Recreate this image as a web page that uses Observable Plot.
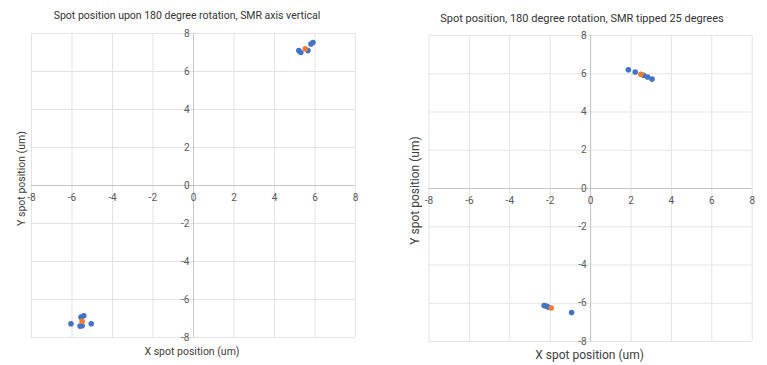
<!DOCTYPE html>
<html><head><meta charset="utf-8">
<script src="https://cdn.jsdelivr.net/npm/d3@7"></script>
<script src="https://cdn.jsdelivr.net/npm/@observablehq/plot@0.6"></script>
<style>
body{margin:0;background:#fff;font-family:Roboto,"Liberation Sans",sans-serif;}
#wrap{position:relative;width:767px;height:365px;overflow:hidden;background:#fff}
.panel{position:absolute;top:0;height:365px}
.title{position:absolute;white-space:nowrap;transform:translate(-50%,-50%);color:#333333}
.panel svg{position:absolute;top:27px;left:0;overflow:visible}
</style>
</head><body>
<div id="wrap">
  <div class="panel" id="p1" style="left:0;width:380px"><div class="title" style="left:187px;top:15px;font-size:10.5px">Spot position upon 180 degree rotation, SMR axis vertical</div></div>
  <div class="panel" id="p2" style="left:380px;width:387px"><div class="title" style="left:202px;top:18px;font-size:11px">Spot position, 180 degree rotation, SMR tipped 25 degrees</div></div>
</div>
<script>
const ticks = [-8, -6, -4, -2, 0, 2, 4, 6, 8];
const xTitle = "X spot position (um)";
const yTitle = "Y spot position (um)";

// Left chart: SMR axis vertical
const leftBlueX = [5.2, 5.3, 5.65, 5.8, 5.9, -6.05, -5.55, -5.42, -5.5, -5.6, -5.05];
const leftBlueY = [7.1, 7.0, 7.1, 7.45, 7.53, -7.28, -6.93, -6.86, -7.38, -7.4, -7.28];
const leftOrangeX = [5.52, -5.5];
const leftOrangeY = [7.2, -7.15];

// Right chart: SMR tipped 25 degrees
const rightBlueX = [1.87, 2.21, 2.62, 2.82, 3.04, -2.3, -2.2, -2.1, -0.94];
const rightBlueY = [6.21, 6.09, 5.92, 5.83, 5.72, -6.12, -6.15, -6.2, -6.49];
const rightOrangeX = [2.49, -1.95];
const rightOrangeY = [5.97, -6.25];

const BLUE = "#4472C4", ORANGE = "#ED7D31";

function pts(xs, ys) { return xs.map((x, i) => ({x, y: ys[i]})); }

function chart(o) {
  const blue = pts(o.bx, o.by), orange = pts(o.ox, o.oy);
  return Plot.plot({
    width: o.width, height: 338,
    marginLeft: o.ml, marginRight: o.mr, marginTop: o.mt, marginBottom: o.mb,
    x: {domain: [-8, 8], axis: null},
    y: {domain: [-8, 8], axis: null},
    style: {fontFamily: "Roboto, 'Liberation Sans', sans-serif", background: "transparent", overflow: "visible"},
    marks: [
      Plot.gridX(ticks, {stroke: "#e3e3e3", strokeOpacity: 1}),
      Plot.gridY(ticks, {stroke: "#e3e3e3", strokeOpacity: 1}),
      Plot.ruleX([0], {stroke: "#c4c4c4"}),
      Plot.ruleY([0], {stroke: "#c4c4c4"}),
      Plot.text(ticks, {x: d => d, y: 0, dy: 12, text: d => String(d), fill: "#595959", fontSize: o.tfs}),
      Plot.text(ticks, {x: 0, y: d => d, dx: -4, textAnchor: "end", text: d => String(d), fill: "#595959", fontSize: o.tfs}),
      Plot.dot(blue, {x: "x", y: "y", r: 2.8, fill: BLUE, stroke: null}),
      Plot.dot(orange, {x: "x", y: "y", r: 2.8, fill: ORANGE, stroke: null}),
      Plot.text([xTitle], {frameAnchor: "bottom", lineAnchor: "middle", textAnchor: "middle", dy: o.xdy, dx: o.xdx, fill: "#404040", fontSize: o.afs}),
      Plot.text([yTitle], {frameAnchor: "left", lineAnchor: "middle", textAnchor: "middle", dx: o.ydx, dy: o.ydy, rotate: -90, fill: "#404040", fontSize: o.afs})
    ]
  });
}

document.getElementById("p1").appendChild(chart({
  width: 380, ml: 31, mr: 25, mt: 6, mb: 28, tfs: 10, afs: 10.5,
  xdy: 14, xdx: -1.5, ydx: -10, ydy: -7,
  bx: leftBlueX, by: leftBlueY, ox: leftOrangeX, oy: leftOrangeY
}));
document.getElementById("p2").appendChild(chart({
  width: 387, ml: 48.5, mr: 15.3, mt: 8, mb: 24, tfs: 10, afs: 12,
  xdy: 14, xdx: -1, ydx: -14, ydy: 2,
  bx: rightBlueX, by: rightBlueY, ox: rightOrangeX, oy: rightOrangeY
}));
</script>
</body></html>
